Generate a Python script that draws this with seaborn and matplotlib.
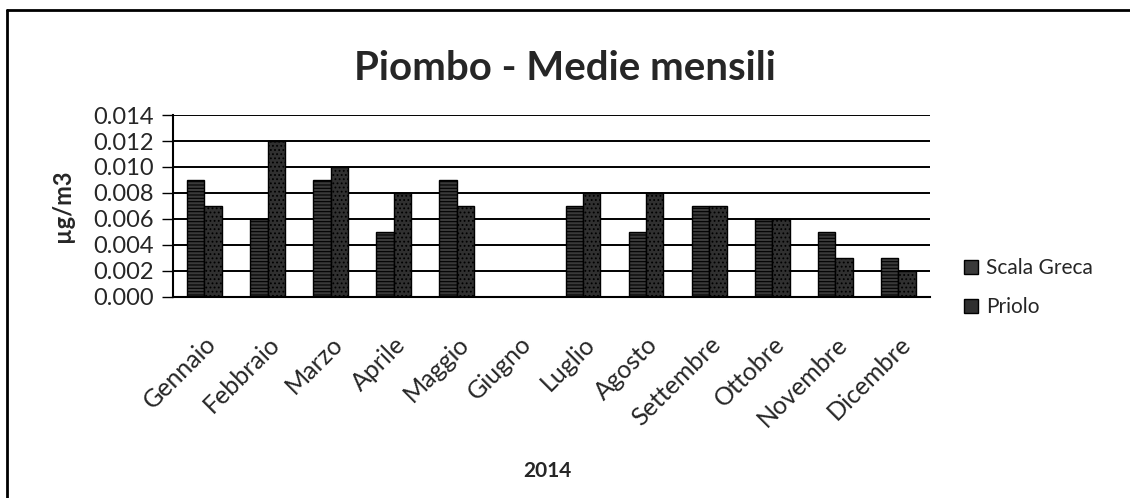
import matplotlib
matplotlib.use("Agg")
import matplotlib.pyplot as plt
import seaborn as sns
import pandas as pd
from matplotlib.lines import Line2D

months = ["Gennaio", "Febbraio", "Marzo", "Aprile", "Maggio", "Giugno",
          "Luglio", "Agosto", "Settembre", "Ottobre", "Novembre", "Dicembre"]
scala_greca = [0.009, 0.006, 0.009, 0.005, 0.009, None, 0.007, 0.005, 0.007, 0.006, 0.005, 0.003]
priolo = [0.007, 0.012, 0.010, 0.008, 0.007, None, 0.008, 0.008, 0.007, 0.006, 0.003, 0.002]
series = ["Scala Greca", "Priolo"]
yticks = [0.000, 0.002, 0.004, 0.006, 0.008, 0.010, 0.012, 0.014]

df = pd.DataFrame({
    "Mese": months * 2,
    "Valore": scala_greca + priolo,
    "Serie": [series[0]] * len(months) + [series[1]] * len(months),
})

sns.set_style("white")
plt.rcParams["font.family"] = ["Lato", "DejaVu Sans"]
plt.rcParams["hatch.color"] = "#dddddd"
plt.rcParams["hatch.linewidth"] = 0.8

fig = plt.figure(figsize=(11.30, 4.98), dpi=100)
ax = fig.add_axes([0.153, 0.404, 0.670, 0.365])

sns.barplot(data=df, x="Mese", y="Valore", hue="Serie", order=months,
            hue_order=series, palette=["#3a3a3a", "#303030"], width=0.55,
            edgecolor="black", linewidth=1.0, ax=ax, legend=True)

hatches = {series[0]: "-----", series[1]: "...."}
for cont, s in zip(ax.containers, series):
    for bar in cont:
        bar.set_hatch(hatches[s])

ax.set_ylim(0, 0.014)
ax.set_yticks(yticks)
ax.set_yticklabels([f"{v:.3f}" for v in yticks], fontsize=17)
ax.yaxis.grid(True, color="black", linewidth=1.4)
ax.set_axisbelow(True)
ax.tick_params(axis="y", which="both", left=True, length=8, width=1, color="black", pad=6)
ax.tick_params(axis="x", bottom=False, pad=22)
ax.set_xticks(range(len(months)))
ax.set_xticklabels(months, rotation=45, ha="right", rotation_mode="anchor", fontsize=18)
for sp in ["top", "right"]:
    ax.spines[sp].set_visible(False)
ax.spines["left"].set_color("black")
ax.spines["left"].set_linewidth(1.5)
ax.spines["bottom"].set_color("black")
ax.spines["bottom"].set_linewidth(1.5)

ax.set_xlabel("2014", fontsize=15, fontweight="bold")
ax.set_ylabel("µg/m3", fontsize=17, fontweight="bold")
ax.xaxis.set_label_coords(0.495, -0.905)
ax.yaxis.set_label_coords(-0.13, 0.5)

fig.text(0.50, 0.862, "Piombo - Medie mensili", ha="center", va="center",
         fontsize=29, fontweight="bold")

leg = ax.legend(loc="center left", bbox_to_anchor=(1.02, 0.05), frameon=False,
                fontsize=15, handlelength=0.7, handleheight=0.7, handletextpad=0.35,
                labelspacing=0.9)

# page frame lines
fig.add_artist(Line2D([7 / 1130, 7 / 1130], [0, 1 - 10 / 498], color="black", lw=2,
                      transform=fig.transFigure))
fig.add_artist(Line2D([7 / 1130, 1], [1 - 10 / 498, 1 - 10 / 498], color="black", lw=2,
                      transform=fig.transFigure))

fig.savefig("out.png", dpi=100, facecolor="white")
